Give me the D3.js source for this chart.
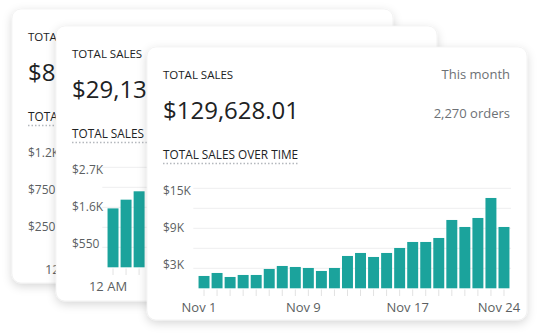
<!DOCTYPE html>
<html>
<head>
<meta charset="utf-8">
<script src="https://cdn.jsdelivr.net/npm/d3@7"></script>
<style>
  html, body { margin: 0; padding: 0; background: #ffffff; }
  svg { display: block; }
  text { font-family: "Open Sans", "Noto Sans", sans-serif; }
</style>
</head>
<body>
<svg id="chart" width="540" height="336"></svg>
<script>
// ---- data ----
const dayCategories = ["Nov 1","Nov 2","Nov 3","Nov 4","Nov 5","Nov 6","Nov 7","Nov 8","Nov 9","Nov 10","Nov 11","Nov 12","Nov 13","Nov 14","Nov 15","Nov 16","Nov 17","Nov 18","Nov 19","Nov 20","Nov 21","Nov 22","Nov 23","Nov 24"];
const daySales = [1850, 2300, 1700, 2000, 2000, 2900, 3350, 3200, 3050, 2600, 3050, 4850, 5300, 4700, 5300, 6050, 6950, 6950, 7550, 10250, 9200, 10550, 13550, 9200];
const dayTickLabels = ["Nov 1", "Nov 9", "Nov 17", "Nov 24"];
const dayYTicks = [3000, 9000, 15000];

const hourCategories = ["12 AM","1 AM","2 AM","3 AM","4 AM","5 AM","6 AM","7 AM","8 AM","9 AM","10 AM","11 AM","12 PM","1 PM","2 PM","3 PM","4 PM","5 PM","6 PM","7 PM","8 PM","9 PM","10 PM","11 PM"];
const todaySales = [1620, 1860, 2090];
const todayYTicks = [550, 1650, 2750];
const yesterdayYTicks = [250, 750, 1250];
const hourTickLabels = ["12 AM"];

const cardTitles = ["TOTAL SALES", "TOTAL SALES", "TOTAL SALES"];
const cardTotals = ["$8", "$29,13", "$129,628.01"];
const chartTitle = "TOTAL SALES OVER TIME";
const periodLabel = "This month";
const ordersLabel = "2,270 orders";

// ---- drawing ----
const svg = d3.select("#chart");
const defs = svg.append("defs");
const f = defs.append("filter").attr("id", "shadow")
  .attr("x", "-10%").attr("y", "-10%").attr("width", "120%").attr("height", "125%");
f.append("feDropShadow").attr("dx", 0).attr("dy", 3).attr("stdDeviation", 5)
  .attr("flood-color", "#000").attr("flood-opacity", 0.16);

const fmt = v => v >= 1000 ? "$" + (Math.floor(v / 100) / 10) + "K" : "$" + v;

function drawCard(cfg) {
  const x0 = cfg.x, y0 = cfg.y;
  const g = svg.append("g");
  g.append("rect").attr("x", x0).attr("y", y0).attr("width", cfg.w).attr("height", cfg.h)
    .attr("rx", 9).attr("fill", "#fff").attr("stroke", "#ececec").attr("stroke-width", 0.6)
    .attr("filter", "url(#shadow)");

  g.append("text").attr("x", x0 + 16).attr("y", y0 + 32)
    .attr("font-size", 11.5).attr("font-weight", 500).attr("fill", "#202223").text(cfg.title);
  g.append("text").attr("x", x0 + 16).attr("y", y0 + 72)
    .attr("font-size", 24).attr("fill", "#202223").text(cfg.total);
  if (cfg.period) {
    g.append("text").attr("x", x0 + 363).attr("y", y0 + 32).attr("text-anchor", "end")
      .attr("font-size", 13).attr("fill", "#6d7175").text(cfg.period);
    g.append("text").attr("x", x0 + 363).attr("y", y0 + 70.5).attr("text-anchor", "end")
      .attr("font-size", 13).attr("fill", "#6d7175").text(cfg.orders);
  }
  const ct = g.append("text").attr("x", x0 + 16).attr("y", y0 + 111.5)
    .attr("font-size", 11.8).attr("font-weight", 500).attr("fill", "#202223").text(chartTitle);
  const tw = ct.node().getComputedTextLength();
  g.append("line").attr("x1", x0 + 16).attr("x2", x0 + 16 + tw)
    .attr("y1", y0 + 116.5).attr("y2", y0 + 116.5)
    .attr("stroke", "#b4b8bd").attr("stroke-width", 1.5).attr("stroke-dasharray", "1.5,2");

  const yMax = cfg.yTicks[cfg.yTicks.length - 1];
  const y = d3.scaleLinear().domain([0, yMax]).range([y0 + 241.3, y0 + 141.3]);
  const yLab = d3.scaleLinear().domain([0, yMax]).range([y0 + 236, y0 + 143.5]);
  const x = d3.scaleBand().domain(cfg.categories).range([x0 + 50.5, x0 + 363.5])
    .paddingInner(0.16).paddingOuter(0.08);

  // gridlines every half label step
  const step = (cfg.yTicks[1] - cfg.yTicks[0]) / 2;
  const grid = d3.range(step, yMax + 1, step);
  g.append("g").selectAll("line").data(grid).join("line")
    .attr("x1", x0 + 46.3).attr("x2", x0 + 364)
    .attr("y1", d => y(d)).attr("y2", d => y(d))
    .attr("stroke", "#eeeeef").attr("stroke-width", 1);

  g.append("g").selectAll("text").data(cfg.yTicks).join("text")
    .attr("x", x0 + 16).attr("y", d => yLab(d)).attr("dy", "0.35em")
    .attr("font-size", 12).attr("fill", "#5c5f62").text(fmt);

  // x ticks
  g.append("g").selectAll("line").data(cfg.categories).join("line")
    .attr("x1", d => x(d) + x.bandwidth() / 2).attr("x2", d => x(d) + x.bandwidth() / 2)
    .attr("y1", y0 + 242.5).attr("y2", y0 + 249)
    .attr("stroke", "#e2e2e2").attr("stroke-width", 1);

  g.append("g").selectAll("rect").data(cfg.values).join("rect")
    .attr("x", (d, i) => x(cfg.categories[i])).attr("width", x.bandwidth())
    .attr("y", d => y(d)).attr("height", d => y(0) - y(d))
    .attr("fill", "#1ba39c");

  g.append("g").selectAll("text").data(cfg.xLabels).join("text")
    .attr("x", d => x(d) + x.bandwidth() / 2 - 5).attr("y", y0 + 264.5)
    .attr("text-anchor", "middle").attr("font-size", 13).attr("fill", "#5c5f62").text(d => d);
}

drawCard({ x: 12, y: 9, w: 381, h: 274, title: cardTitles[0], total: cardTotals[0],
  yTicks: yesterdayYTicks, categories: hourCategories, values: [], xLabels: hourTickLabels });
drawCard({ x: 56, y: 26, w: 381, h: 275, title: cardTitles[1], total: cardTotals[1],
  yTicks: todayYTicks, categories: hourCategories, values: todaySales, xLabels: hourTickLabels });
drawCard({ x: 147, y: 47, w: 380, h: 273, title: cardTitles[2], total: cardTotals[2],
  period: periodLabel, orders: ordersLabel,
  yTicks: dayYTicks, categories: dayCategories, values: daySales, xLabels: dayTickLabels });
</script>
</body>
</html>
